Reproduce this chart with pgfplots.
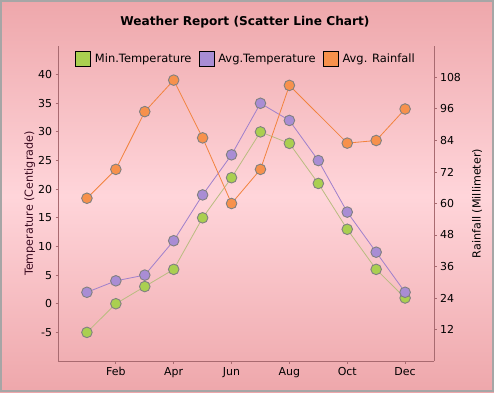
\documentclass[border=0pt]{standalone}
\usepackage{pgfplots}
\pgfplotsset{compat=1.18}
\usepackage{fontspec}
\setmainfont{DejaVu Sans}
\definecolor{bgedge}{HTML}{EEA7AB}
\definecolor{bgmid}{HTML}{FFD5DA}
\definecolor{axcol}{HTML}{A86A70}
\definecolor{minline}{HTML}{B9BC80}
\definecolor{minfill}{HTML}{AACF50}
\definecolor{avgline}{HTML}{9F80CC}
\definecolor{avgfill}{HTML}{A98DD4}
\definecolor{rainline}{HTML}{F2833E}
\definecolor{rainfill}{HTML}{F7914C}
\definecolor{mkborder}{HTML}{808080}
\definecolor{lblcol}{HTML}{3A0A20}
\pgfplotsset{
  common/.style={
    at={(58bp,31bp)}, anchor=south west,
    width=376bp, height=315bp, scale only axis,
    xmin=0, xmax=13,
    axis line style={axcol, line width=0.8bp},
    tick style={axcol, line width=1bp},
    major tick length=2.5bp, tick align=outside,
    /pgf/number format/assume math mode=true,
    tick label style={font=\fontsize{11}{13}\selectfont, text=black},
    label style={font=\fontsize{11.2}{13}\selectfont},
  },
}
\begin{document}
\begin{tikzpicture}[x=1bp,y=1bp]
\shade[top color=bgedge, bottom color=bgedge, middle color=bgmid] (0,0) rectangle (494,392);
\draw[color=black!35, line width=2bp] (1,1) rectangle (493,391);
\node[font=\bfseries\fontsize{12.2}{14}\selectfont] at (245,370) {Weather Report (Scatter Line Chart)};
\begin{axis}[common,
  ymin=-10, ymax=45,
  axis y line*=left, axis x line*=bottom,
  xtick={2,4,6,8,10,12}, xticklabels={Feb,Apr,Jun,Aug,Oct,Dec},
  ytick={-5,0,5,10,15,20,25,30,35,40},
  ylabel={Temperature (Centigrade)},
  ylabel style={at={(axis description cs:-0.075,0.5)}, anchor=center, text=lblcol},
]
\addplot[draw=minline, line width=0.8bp, mark=*, mark size=5.3bp,
  mark options={fill=minfill, draw=mkborder, line width=0.9bp}]
  coordinates {(1,-5)(2,0)(3,3)(4,6)(5,15)(6,22)(7,30)(8,28)(9,21)(10,13)(11,6)(12,1)};
\addplot[draw=avgline, line width=0.8bp, mark=*, mark size=5.3bp,
  mark options={fill=avgfill, draw=mkborder, line width=0.9bp}]
  coordinates {(1,2)(2,4)(3,5)(4,11)(5,19)(6,26)(7,35)(8,32)(9,25)(10,16)(11,9)(12,2)};
\end{axis}
\begin{axis}[common,
  ymin=0, ymax=120,
  axis y line*=right, axis x line=none,
  ytick={12,24,36,48,60,72,84,96,108},
  ylabel={Rainfall (Millimeter)},
  ylabel style={at={(axis description cs:1.1147,0.5)}, anchor=center, text=black},
  legend columns=3,
  legend style={at={(0.5,0.958)}, anchor=center, draw=none, fill=none,
    font=\fontsize{11.5}{13}\selectfont,
    /tikz/every even column/.append style={column sep=5bp},
    /tikz/every odd column/.append style={column sep=2bp}},
]
\addlegendimage{legend image code/.code={\draw[draw=black, line width=0.8bp, fill=minfill] (0bp,-7.5bp) rectangle (15bp,7.5bp);}}
\addlegendentry{Min.Temperature}
\addlegendimage{legend image code/.code={\draw[draw=black, line width=0.8bp, fill=avgfill] (0bp,-7.5bp) rectangle (15bp,7.5bp);}}
\addlegendentry{Avg.Temperature}
\addplot[draw=rainline, line width=0.8bp, mark=*, mark size=5.3bp,
  mark options={fill=rainfill, draw=mkborder, line width=0.9bp},
  legend image code/.code={\draw[draw=black, line width=0.8bp, fill=rainfill] (0bp,-7.5bp) rectangle (15bp,7.5bp);}]
  coordinates {(1,62)(2,73)(3,95)(4,107)(5,85)(6,60)(7,73)(8,105)(10,83)(11,84)(12,96)};
\addlegendentry{Avg. Rainfall}
\end{axis}
\pgfresetboundingbox
\path (0,0) rectangle (494,392);
\end{tikzpicture}
\end{document}
